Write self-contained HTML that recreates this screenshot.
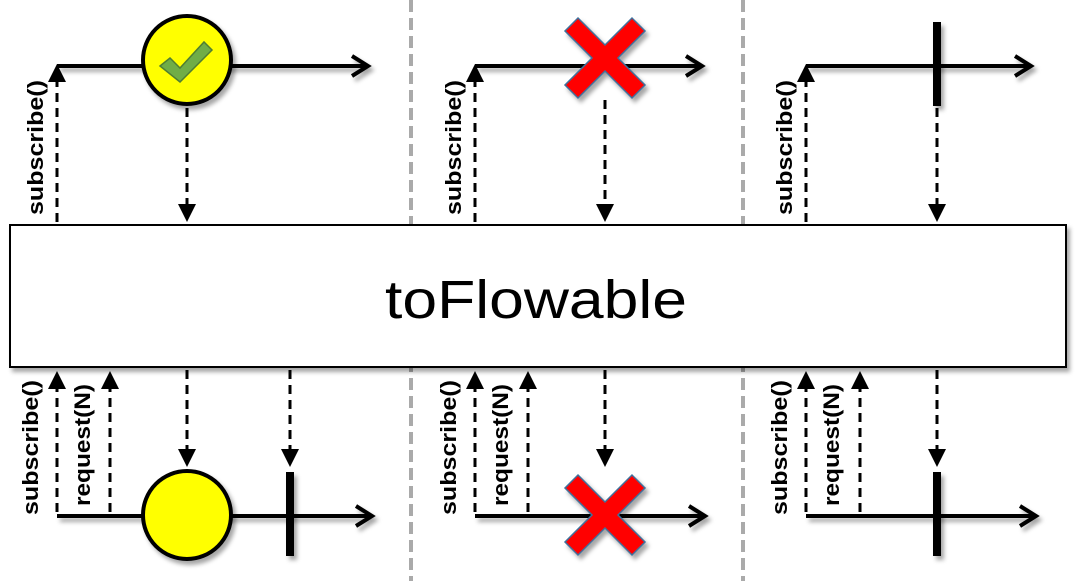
<!DOCTYPE html>
<html><head><meta charset="utf-8"><style>
html,body{margin:0;padding:0;background:#fff;}
svg{display:block;}
text{font-family:"Liberation Sans",sans-serif;}
</style></head><body>
<svg width="1076" height="581" viewBox="0 0 1076 581" xmlns="http://www.w3.org/2000/svg">
<defs>
<filter id="sh" x="-10%" y="-10%" width="130%" height="140%"><feDropShadow dx="3" dy="4" stdDeviation="2" flood-color="#000" flood-opacity="0.35"/></filter>
</defs>
<line x1="411" y1="0" x2="411" y2="581" stroke="#aaa" stroke-width="4" stroke-dasharray="12,6"/>
<line x1="743" y1="0" x2="743" y2="581" stroke="#aaa" stroke-width="4" stroke-dasharray="12,6"/>

<rect x="10" y="225" width="1056" height="142" fill="#fff" stroke="#000" stroke-width="2" filter="url(#sh)"/>
<text x="385" y="318" font-size="54" textLength="302" lengthAdjust="spacingAndGlyphs" fill="#000">toFlowable</text>

<g stroke="#000" stroke-width="3" fill="none">
<g filter="url(#sh)">
<line x1="57" y1="66" x2="366" y2="66" stroke-width="4"/>
<polyline points="352,56 368,66 352,76" stroke-width="4"/>
<line x1="475" y1="66" x2="700" y2="66" stroke-width="4"/>
<polyline points="686,56 702,66 686,76" stroke-width="4"/>
<line x1="806" y1="66" x2="1029" y2="66" stroke-width="4"/>
<polyline points="1015,56 1031,66 1015,76" stroke-width="4"/>
<line x1="57" y1="516" x2="370" y2="516" stroke-width="4"/>
<polyline points="356,506 372,516 356,526" stroke-width="4"/>
<line x1="475" y1="516" x2="703" y2="516" stroke-width="4"/>
<polyline points="689,506 705,516 689,526" stroke-width="4"/>
<line x1="806" y1="516" x2="1034" y2="516" stroke-width="4"/>
<polyline points="1020,506 1036,516 1020,526" stroke-width="4"/>
</g>
<g stroke-dasharray="9,6">
<line x1="57" y1="222" x2="57" y2="80"/>
<line x1="187" y1="108" x2="187" y2="205"/>
<line x1="475" y1="222" x2="475" y2="80"/>
<line x1="605" y1="100" x2="605" y2="205"/>
<line x1="806" y1="222" x2="806" y2="80"/>
<line x1="937" y1="108" x2="937" y2="205"/>
<line x1="57" y1="512" x2="57" y2="385"/>
<line x1="110" y1="512" x2="110" y2="385"/>
<line x1="187" y1="370" x2="187" y2="455"/>
<line x1="290" y1="370" x2="290" y2="455"/>
<line x1="475" y1="512" x2="475" y2="385"/>
<line x1="528" y1="512" x2="528" y2="385"/>
<line x1="605" y1="370" x2="605" y2="455"/>
<line x1="806" y1="512" x2="806" y2="385"/>
<line x1="860" y1="512" x2="860" y2="385"/>
<line x1="937" y1="370" x2="937" y2="455"/>
</g>
</g>
<g fill="#000">
<polygon points="57,64 48,82 66,82"/>
<polygon points="475,64 466,82 484,82"/>
<polygon points="806,64 797,82 815,82"/>
<polygon points="187,222 178,204 196,204"/>
<polygon points="605,222 596,204 614,204"/>
<polygon points="937,222 928,204 946,204"/>
<polygon points="57,371 48,389 66,389"/>
<polygon points="110,371 101,389 119,389"/>
<polygon points="475,371 466,389 484,389"/>
<polygon points="528,371 519,389 537,389"/>
<polygon points="806,371 797,389 815,389"/>
<polygon points="860,371 851,389 869,389"/>
<polygon points="187,467 178,449 196,449"/>
<polygon points="290,467 281,449 299,449"/>
<polygon points="605,467 596,449 614,449"/>
<polygon points="937,467 928,449 946,449"/>
</g>

<g filter="url(#sh)">
<circle cx="187" cy="60" r="44" fill="#ffff00" stroke="#000" stroke-width="4"/>
<polygon points="160,66 170,58 180,68 204,42 212,50 180,82" fill="#70ad47" stroke="#507e32" stroke-width="1.5"/>
<circle cx="187" cy="515" r="44" fill="#ffff00" stroke="#000" stroke-width="4"/>
<rect x="286" y="472" width="8" height="84" fill="#000"/>
<rect x="933" y="22" width="8" height="84" fill="#000"/>
<rect x="933" y="472" width="8" height="84" fill="#000"/>
<g fill="#ff0000" stroke="#41719c" stroke-width="1.5">
<polygon points="578,18 605,45 632,18 645,31 618,58 645,85 632,98 605,71 578,98 565,85 592,58 565,31"/>
<polygon points="578,475 605,502 632,475 645,488 618,515 645,542 632,555 605,528 578,555 565,542 592,515 565,488"/>
</g>
</g>

<g font-weight="bold" font-size="22" fill="#000" lengthAdjust="spacingAndGlyphs">
<text transform="translate(43,215) rotate(-90)" textLength="135" lengthAdjust="spacingAndGlyphs">subscribe()</text>
<text transform="translate(461,215) rotate(-90)" textLength="135" lengthAdjust="spacingAndGlyphs">subscribe()</text>
<text transform="translate(792,215) rotate(-90)" textLength="135" lengthAdjust="spacingAndGlyphs">subscribe()</text>
<text transform="translate(38,515) rotate(-90)" textLength="135" lengthAdjust="spacingAndGlyphs">subscribe()</text>
<text transform="translate(90,506) rotate(-90)" textLength="122" lengthAdjust="spacingAndGlyphs">request(N)</text>
<text transform="translate(456,515) rotate(-90)" textLength="135" lengthAdjust="spacingAndGlyphs">subscribe()</text>
<text transform="translate(508,506) rotate(-90)" textLength="122" lengthAdjust="spacingAndGlyphs">request(N)</text>
<text transform="translate(787,515) rotate(-90)" textLength="135" lengthAdjust="spacingAndGlyphs">subscribe()</text>
<text transform="translate(839,506) rotate(-90)" textLength="122" lengthAdjust="spacingAndGlyphs">request(N)</text>
</g>
</svg>
</body></html>
